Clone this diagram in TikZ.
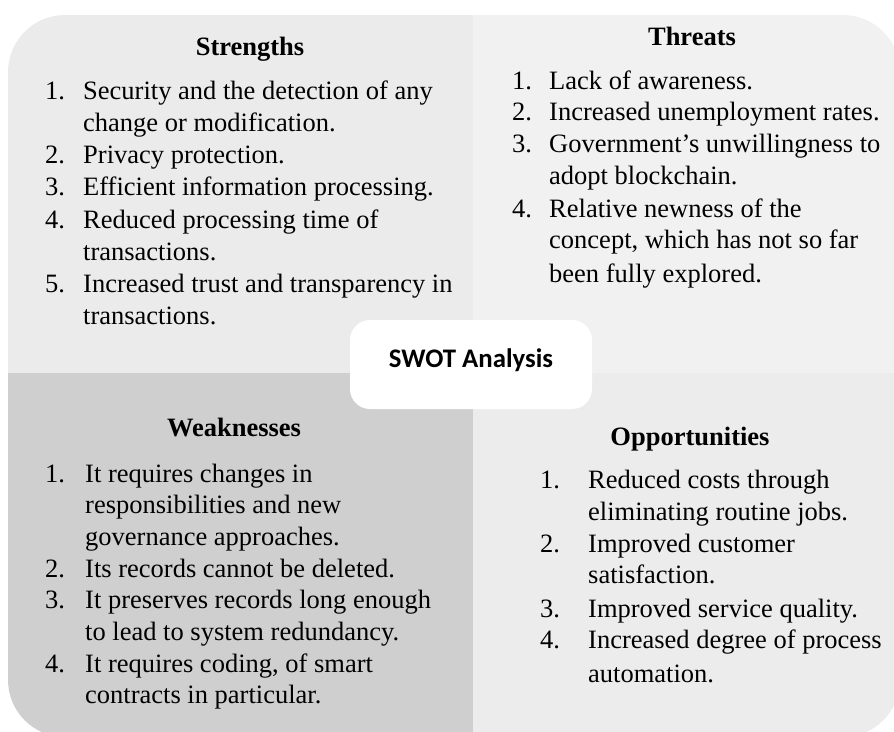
\documentclass[tikz,border=0pt]{standalone}
\usepackage{fontspec}
\setmainfont{Liberation Serif}
\newfontfamily\swotfont{Carlito}
\definecolor{sbg}{RGB}{235,235,235}
\definecolor{tbg}{RGB}{241,241,241}
\definecolor{wbg}{RGB}{208,207,208}
\definecolor{obg}{RGB}{236,236,236}
\begin{document}
\begin{tikzpicture}[x=1pt,y=-1pt,
  txt/.style={anchor=base west, inner sep=0pt, font=\fontsize{26.5}{32}\selectfont},
  head/.style={anchor=base, inner sep=0pt, font=\bfseries\fontsize{26.5}{32}\selectfont}]
\useasboundingbox (0,0) rectangle (894,731);
\begin{scope}
  \clip[rounded corners=57pt] (8,15) rectangle (900,737);
  \fill[sbg] (0,0) rectangle (473,373);
  \fill[tbg] (473,0) rectangle (910,373);
  \fill[wbg] (0,373) rectangle (473,745);
  \fill[obg] (473,373) rectangle (910,745);
\end{scope}
\node[fill=white, rounded corners=20pt, minimum width=242pt, minimum height=89pt, inner sep=0pt] (swotbox) at (471,364.5) {};
\node[anchor=base, inner sep=0pt, font=\swotfont\bfseries\fontsize{26.8}{30}\selectfont] (swot) at (471,367) {SWOT Analysis};
% Strengths
\node[head] (sh) at (250,55) {Strengths};
\node[txt] (s1n) at (45,99) {1.};
\node[txt] (s1a) at (83,99) {Security and the detection of any};
\node[txt] (s1b) at (83,131) {change or modification.};
\node[txt] (s2n) at (45,163) {2.};
\node[txt] (s2a) at (83,163) {Privacy protection.};
\node[txt] (s3n) at (45,195.5) {3.};
\node[txt] (s3a) at (83,195.5) {Efficient information processing.};
\node[txt] (s4n) at (45,228) {4.};
\node[txt] (s4a) at (83,228) {Reduced processing time of};
\node[txt] (s4b) at (83,260) {transactions.};
\node[txt] (s5n) at (45,292) {5.};
\node[txt] (s5a) at (83,292) {Increased trust and transparency in};
\node[txt] (s5b) at (83,324) {transactions.};
% Threats
\node[head] (th) at (692,45) {Threats};
\node[txt] (t1n) at (512,89) {1.};
\node[txt] (t1a) at (549,89) {Lack of awareness.};
\node[txt] (t2n) at (512,120) {2.};
\node[txt] (t2a) at (549,120) {Increased unemployment rates.};
\node[txt] (t3n) at (512,152) {3.};
\node[txt] (t3a) at (549,152) {Government’s unwillingness to};
\node[txt] (t3b) at (549,184) {adopt blockchain.};
\node[txt] (t4n) at (512,217) {4.};
\node[txt] (t4a) at (549,217) {Relative newness of the};
\node[txt] (t4b) at (549,248) {concept, which has not so far};
\node[txt] (t4c) at (549,282) {been fully explored.};
% Weaknesses
\node[head] (wh) at (234,436) {Weaknesses};
\node[txt] (w1n) at (45,482) {1.};
\node[txt] (w1a) at (85,482) {It requires changes in};
\node[txt] (w1b) at (85,513) {responsibilities and new};
\node[txt] (w1c) at (85,545) {governance approaches.};
\node[txt] (w2n) at (45,577) {2.};
\node[txt] (w2a) at (85,577) {Its records cannot be deleted.};
\node[txt] (w3n) at (45,608) {3.};
\node[txt] (w3a) at (85,608) {It preserves records long enough};
\node[txt] (w3b) at (85,640) {to lead to system redundancy.};
\node[txt] (w4n) at (45,672) {4.};
\node[txt] (w4a) at (85,672) {It requires coding, of smart};
\node[txt] (w4b) at (85,703) {contracts in particular.};
% Opportunities
\node[head] (oh) at (690,445) {Opportunities};
\node[txt] (o1n) at (540,488) {1.};
\node[txt] (o1a) at (588,488) {Reduced costs through};
\node[txt] (o1b) at (588,520) {eliminating routine jobs.};
\node[txt] (o2n) at (540,552) {2.};
\node[txt] (o2a) at (588,552) {Improved customer};
\node[txt] (o2b) at (588,583) {satisfaction.};
\node[txt] (o3n) at (540,617) {3.};
\node[txt] (o3a) at (588,617) {Improved service quality.};
\node[txt] (o4n) at (540,648) {4.};
\node[txt] (o4a) at (588,648) {Increased degree of process};
\node[txt] (o4b) at (588,682) {automation.};
\end{tikzpicture}
\end{document}
